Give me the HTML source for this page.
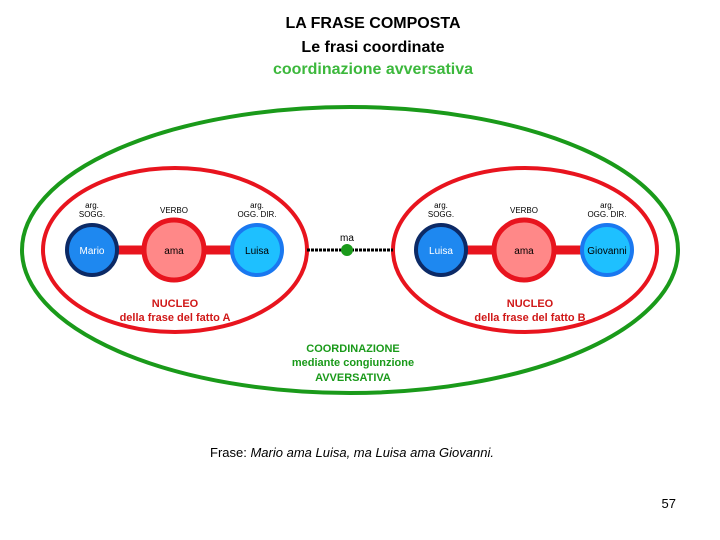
<!DOCTYPE html>
<html><head><meta charset="utf-8"><style>
html,body{margin:0;padding:0;background:#fff;}
svg{display:block;}
text{font-family:"Liberation Sans",sans-serif;}
</style></head><body>
<svg width="720" height="540" viewBox="0 0 720 540" xmlns="http://www.w3.org/2000/svg">
<text x="373" y="28" text-anchor="middle" font-size="16" font-weight="bold" fill="#000">LA FRASE COMPOSTA</text>
<text x="373" y="52" text-anchor="middle" font-size="16" font-weight="bold" fill="#000">Le frasi coordinate</text>
<text x="373" y="74" text-anchor="middle" font-size="16" font-weight="bold" fill="#3cb83c">coordinazione avversativa</text>

<ellipse cx="350" cy="250" rx="328" ry="143" fill="none" stroke="#1a9a1a" stroke-width="4"/>
<ellipse cx="175" cy="250" rx="132" ry="82" fill="none" stroke="#e8141e" stroke-width="4"/>
<ellipse cx="525" cy="250" rx="132" ry="82" fill="none" stroke="#e8141e" stroke-width="4"/>

<line x1="307" y1="250" x2="393" y2="250" stroke="#000" stroke-width="3" stroke-dasharray="3,1"/>
<circle cx="347" cy="250" r="6" fill="#1a9a1a"/>
<text x="347" y="241" text-anchor="middle" font-size="10" fill="#000">ma</text>

<g>
<line x1="92" y1="250" x2="257" y2="250" stroke="#e8141e" stroke-width="9"/>
<circle cx="92" cy="250" r="25" fill="#1e88f0" stroke="#0c2a66" stroke-width="4"/>
<circle cx="174" cy="250" r="30" fill="#f88" stroke="#e8141e" stroke-width="5"/>
<circle cx="257" cy="250" r="25" fill="#1ec0ff" stroke="#1a78f0" stroke-width="4"/>
<text x="92" y="254" text-anchor="middle" font-size="10" fill="#fff">Mario</text>
<text x="174" y="254" text-anchor="middle" font-size="10" fill="#000">ama</text>
<text x="257" y="254" text-anchor="middle" font-size="10" fill="#000">Luisa</text>
<text x="92" y="208" text-anchor="middle" font-size="8" fill="#000">arg.</text>
<text x="92" y="217" text-anchor="middle" font-size="8" fill="#000">SOGG.</text>
<text x="174" y="213" text-anchor="middle" font-size="8" fill="#000">VERBO</text>
<text x="257" y="208" text-anchor="middle" font-size="8" fill="#000">arg.</text>
<text x="257" y="217" text-anchor="middle" font-size="8" fill="#000">OGG. DIR.</text>
<text x="175" y="307" text-anchor="middle" font-size="11" font-weight="bold" fill="#d01818">NUCLEO</text>
<text x="175" y="321" text-anchor="middle" font-size="11" font-weight="bold" fill="#d01818">della frase del fatto A</text>
</g>
<g>
<line x1="441" y1="250" x2="607" y2="250" stroke="#e8141e" stroke-width="9"/>
<circle cx="441" cy="250" r="25" fill="#1e88f0" stroke="#0c2a66" stroke-width="4"/>
<circle cx="524" cy="250" r="30" fill="#f88" stroke="#e8141e" stroke-width="5"/>
<circle cx="607" cy="250" r="25" fill="#1ec0ff" stroke="#1a78f0" stroke-width="4"/>
<text x="441" y="254" text-anchor="middle" font-size="10" fill="#fff">Luisa</text>
<text x="524" y="254" text-anchor="middle" font-size="10" fill="#000">ama</text>
<text x="607" y="254" text-anchor="middle" font-size="10" fill="#000">Giovanni</text>
<text x="441" y="208" text-anchor="middle" font-size="8" fill="#000">arg.</text>
<text x="441" y="217" text-anchor="middle" font-size="8" fill="#000">SOGG.</text>
<text x="524" y="213" text-anchor="middle" font-size="8" fill="#000">VERBO</text>
<text x="607" y="208" text-anchor="middle" font-size="8" fill="#000">arg.</text>
<text x="607" y="217" text-anchor="middle" font-size="8" fill="#000">OGG. DIR.</text>
<text x="530" y="307" text-anchor="middle" font-size="11" font-weight="bold" fill="#d01818">NUCLEO</text>
<text x="530" y="321" text-anchor="middle" font-size="11" font-weight="bold" fill="#d01818">della frase del fatto B</text>
</g>

<text x="353" y="352" text-anchor="middle" font-size="11" font-weight="bold" fill="#1a9a1a">COORDINAZIONE</text>
<text x="353" y="366" text-anchor="middle" font-size="11" font-weight="bold" fill="#1a9a1a">mediante congiunzione</text>
<text x="353" y="381" text-anchor="middle" font-size="11" font-weight="bold" fill="#1a9a1a">AVVERSATIVA</text>

<text x="352" y="457" text-anchor="middle" font-size="13" fill="#000">Frase: <tspan font-style="italic">Mario ama Luisa, ma Luisa ama Giovanni.</tspan></text>
<text x="676" y="508" text-anchor="end" font-size="13" fill="#000">57</text>
</svg>
</body></html>
